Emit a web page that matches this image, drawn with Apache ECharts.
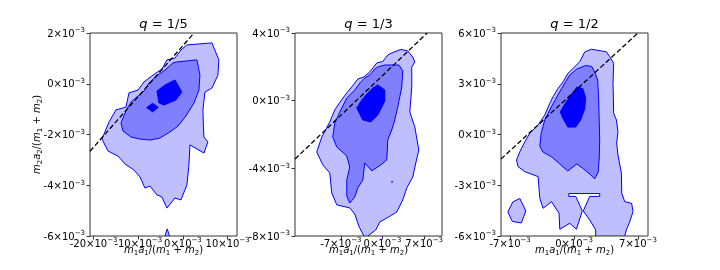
<!DOCTYPE html>
<html><head><meta charset="utf-8">
<script src="https://cdn.jsdelivr.net/npm/echarts@6/dist/echarts.min.js"></script>
<style>html,body{margin:0;padding:0;background:#fff}#c{width:720px;height:270px}</style>
</head><body><div id="c"></div>
<script>
// values in units of 1e-3
const titles = ['1/5', '1/3', '1/2'];
const xTicks1 = [-20, -10, 0, 10];
const xTicks2 = [-7, 0, 7];
const xTicks3 = [-7, 0, 7];

const p1Outer = [[0.89,1.53],[6.49,1.61],[8.05,0.94],[7.83,0.34],[6.49,-0.17],[4.92,-0.33],[4.47,-1.03],[4.59,-1.70],[4.70,-2.10],[5.59,-2.30],[4.70,-2.73],[1.57,-2.41],[1.34,-3.20],[0.89,-3.99],[-0.45,-4.58],[-1.79,-4.50],[-3.58,-4.90],[-4.70,-4.46],[-5.82,-4.38],[-7.38,-4.03],[-8.50,-4.11],[-9.62,-3.67],[-10.96,-3.40],[-12.98,-3.16],[-14.54,-2.85],[-16.78,-2.65],[-18.12,-2.18],[-16.55,-1.51],[-14.99,-1.03],[-12.75,-0.92],[-12.08,-0.36],[-10.07,-0.25],[-8.72,0.07],[-6.94,0.31],[-4.70,0.58],[-3.58,0.94],[-1.79,1.01],[-0.45,1.33]];
const p1Mid = [[3.13,0.94],[3.80,0.34],[3.58,-0.25],[2.46,-0.76],[0.67,-1.27],[-1.12,-1.67],[-2.91,-1.90],[-5.15,-2.14],[-7.38,-2.22],[-9.62,-2.18],[-11.63,-2.10],[-13.42,-1.86],[-13.87,-1.54],[-12.75,-1.07],[-11.63,-0.72],[-10.29,-0.52],[-8.72,-0.29],[-7.61,0.03],[-5.82,0.31],[-4.03,0.54],[-2.24,0.82],[-1.34,0.86]];
const p1Core = [[-1.79,0.15],[-0.22,-0.33],[-1.57,-0.64],[-4.25,-0.84],[-5.37,-0.76],[-5.82,-0.29],[-4.03,-0.05]];
const p1Core2 = [[-6.78,-0.77],[-5.53,-0.93],[-6.78,-1.11],[-8.12,-0.94]];
const p1Tip = [[-4.03,-6.0],[-3.51,-5.72],[-3.02,-6.0]];
const dash1 = [[-20.8,-2.66],[2.5,2.0]];

const p2Outer = [[1.56,2.82],[3.08,3.03],[4.25,2.94],[5.09,2.58],[5.43,2.29],[4.92,1.99],[4.92,0.81],[4.59,-0.67],[5.43,-1.55],[6.10,-2.91],[5.60,-3.68],[5.09,-4.51],[4.08,-5.16],[3.41,-5.87],[2.40,-6.58],[1.06,-6.87],[-0.45,-7.17],[-1.13,-7.64],[-2.47,-8.0],[-3.14,-8.0],[-3.98,-7.41],[-4.66,-6.70],[-5.50,-6.34],[-7.68,-6.16],[-8.52,-5.46],[-8.86,-4.27],[-10.03,-3.80],[-11.04,-3.03],[-10.20,-2.15],[-8.86,-1.26],[-8.02,-0.55],[-7.01,-0.02],[-6.00,0.46],[-5.16,0.81],[-4.15,1.28],[-3.14,1.40],[-2.13,1.70],[-0.96,2.23],[0.05,2.32],[0.89,2.70]];
const p2Mid = [[-0.79,1.99],[0.39,2.11],[2.74,2.11],[3.41,1.76],[3.24,0.81],[2.57,-0.37],[2.07,-1.14],[1.56,-1.73],[0.89,-2.32],[0.72,-3.50],[-0.29,-3.80],[-1.80,-4.15],[-2.97,-3.68],[-3.31,-4.69],[-4.15,-5.16],[-4.66,-5.69],[-5.50,-6.05],[-6.00,-5.63],[-6.00,-4.69],[-5.50,-3.92],[-6.00,-3.27],[-7.68,-2.74],[-8.35,-2.15],[-8.02,-1.32],[-7.01,-0.55],[-6.00,0.16],[-4.66,0.63],[-3.65,1.11],[-2.97,1.34],[-2.13,1.52],[-1.29,1.87]];
const p2Core = [[-0.79,0.93],[0.39,0.63],[0.39,-0.02],[-0.79,-0.85],[-1.97,-1.26],[-3.31,-1.14],[-4.32,-0.43],[-3.48,0.04],[-2.47,0.46],[-1.63,0.75]];
const p2Dot = [[1.61,-4.79]];
const dash2 = [[-14.7,-3.45],[7.5,4.0]];

const p3Outer = [[1.17,4.88],[1.90,5.04],[3.54,4.89],[3.91,4.60],[4.34,4.21],[4.27,3.03],[4.34,1.25],[4.64,0.86],[4.81,0.17],[4.67,-0.50],[4.81,-1.21],[5.19,-2.29],[5.22,-3.46],[5.55,-3.97],[6.31,-4.07],[6.46,-4.56],[6.09,-5.17],[5.73,-5.64],[5.55,-6.0],[2.37,-6.0],[2.37,-5.64],[1.72,-5.05],[1.01,-4.52],[1.72,-3.66],[2.81,-3.66],[2.81,-3.49],[-0.58,-3.49],[-0.58,-3.66],[0.19,-3.66],[0.90,-4.52],[0.26,-5.60],[-0.47,-5.25],[-1.56,-5.60],[-1.64,-4.66],[-2.47,-3.97],[-3.39,-4.36],[-3.75,-3.77],[-3.94,-2.49],[-5.39,-2.20],[-6.13,-1.90],[-6.30,-1.51],[-5.94,-1.02],[-5.39,-0.43],[-4.85,0.07],[-3.94,0.56],[-3.21,1.15],[-2.66,1.84],[-2.30,2.23],[-1.75,2.73],[-1.20,3.12],[-0.66,3.62],[-0.11,3.91],[0.62,4.30]];
const p3Lobe = [[-7.25,-4.58],[-6.71,-3.99],[-5.94,-3.78],[-5.28,-4.52],[-5.78,-5.23],[-6.76,-5.14]];
const p3Mid = [[0.30,3.87],[1.28,4.08],[1.94,4.02],[2.26,3.69],[2.59,3.22],[2.70,2.04],[2.81,-0.33],[2.76,-1.39],[2.65,-2.22],[2.26,-2.63],[1.83,-2.39],[1.06,-2.04],[0.30,-1.74],[-0.69,-2.16],[-1.56,-1.74],[-2.44,-1.33],[-3.42,-1.03],[-3.75,-0.68],[-3.59,0.09],[-3.21,0.86],[-2.49,1.63],[-1.78,2.33],[-1.02,3.04],[-0.47,3.52]];
const p3Core = [[0.30,2.81],[0.95,2.72],[1.28,2.16],[1.17,1.51],[0.73,0.86],[0.19,0.44],[-0.69,0.44],[-1.24,0.98],[-1.51,1.33],[-1.02,1.80],[-0.36,2.33],[0.08,2.63]];
const dash3 = [[-8.0,-1.45],[7.0,6.0]];

const FONT = 'DejaVu Sans';
const LIGHT = '#bfbfff', MID = '#8080ff', DARK = '#0000ff', EDGE = '#0000ff';

const tickRich = {
  a: {fontSize: 10, fontFamily: FONT, color: '#000', lineHeight: 12, verticalAlign: 'bottom'},
  b: {fontSize: 7, fontFamily: FONT, color: '#000', lineHeight: 6, verticalAlign: 'top'}
};
function tickFmt(v) {
  const n = Math.round(v);
  return '{a|' + (n < 0 ? '-' : '') + Math.abs(n) + '×10}{b|−3}';
}
const nameRich = {
  i: {fontSize: 10, fontFamily: FONT, fontStyle: 'italic', color: '#000', lineHeight: 14},
  n: {fontSize: 10, fontFamily: FONT, color: '#000', lineHeight: 14},
  s: {fontSize: 7, fontFamily: FONT, color: '#000', lineHeight: 8, verticalAlign: 'bottom'}
};
const xName = '{i|m}{s|1}{i|a}{s|1}{n|/(}{i|m}{s|1}{n| + }{i|m}{s|2}{n|)}';
const yName = '{i|m}{s|2}{i|a}{s|2}{n|/(}{i|m}{s|1}{n| + }{i|m}{s|2}{n|)}';

const grids = [
  {left: 90, top: 33, width: 147, height: 203},
  {left: 295, top: 33, width: 147, height: 203},
  {left: 501, top: 33, width: 147, height: 203}
].map(g => Object.assign(g, {show: true, borderColor: '#333', borderWidth: 1, containLabel: false}));

const xRanges = [[-20.8, 12.1], [-14.7, 10.0], [-8.0, 8.1]];
// each label set is drawn on its own axis so overlapping labels are all kept (as in the original)
const xTickSets = [xTicks1, xTicks2, xTicks3];
const yRanges = [[-6, 2, 2], [-8, 4, 4], [-6, 6, 3]];

function makeX(gi, vals, withName) {
  const r = xRanges[gi];
  return {
    type: 'value', gridIndex: gi, min: r[0], max: r[1], position: 'bottom',
    axisLine: {show: false, onZero: false}, splitLine: {show: false},
    axisTick: {show: true, length: 3.5, lineStyle: {color: '#333'}, customValues: vals},
    axisLabel: {customValues: vals, formatter: tickFmt, rich: tickRich, margin: 1,
      showMinLabel: true, showMaxLabel: true, hideOverlap: false},
    name: withName ? xName : '', nameLocation: 'middle', nameGap: 7, nameMoveOverlap: false,
    nameTextStyle: {rich: nameRich, verticalAlign: 'top'}
  };
}
const xAxes = [0, 1, 2].map(gi => makeX(gi, xTickSets[gi].filter((v, k) => k % 2 === 0), true))
  .concat([0, 1, 2].map(gi => makeX(gi, xTickSets[gi].filter((v, k) => k % 2 === 1), false)));

const yAxes = yRanges.map((r, i) => ({
  type: 'value', gridIndex: i, min: r[0], max: r[1], interval: r[2],
  axisLine: {show: false, onZero: false}, splitLine: {show: false},
  axisTick: {show: true, length: 3.5, lineStyle: {color: '#333'}},
  axisLabel: {formatter: tickFmt, rich: tickRich, margin: 5, showMinLabel: true, showMaxLabel: true, hideOverlap: false},
  name: i === 0 ? yName : '', nameLocation: 'middle', nameGap: 46, nameRotate: 90, nameMoveOverlap: false,
  nameTextStyle: {rich: nameRich}
}));

function poly(gi, pts, fill) {
  return {
    type: 'custom', xAxisIndex: gi, yAxisIndex: gi, data: pts, clip: true, silent: true,
    renderItem: function (params, api) {
      if (params.dataIndex !== 0) return null;
      return {type: 'polygon', shape: {points: pts.map(p => api.coord(p))},
        style: {fill: fill, stroke: EDGE, lineWidth: 1}};
    }
  };
}
function dashLine(gi, pts) {
  return {type: 'line', xAxisIndex: gi, yAxisIndex: gi, data: pts, showSymbol: false, silent: true,
    clip: true, z: 10, lineStyle: {color: '#000', width: 1.3, type: [5, 2.5]}};
}

const series = [
  poly(0, p1Outer, LIGHT), poly(0, p1Tip, LIGHT), poly(0, p1Mid, MID), poly(0, p1Core, DARK), poly(0, p1Core2, DARK), dashLine(0, dash1),
  poly(1, p2Outer, LIGHT), poly(1, p2Mid, MID), poly(1, p2Core, DARK),
  {type: 'scatter', xAxisIndex: 1, yAxisIndex: 1, data: p2Dot, symbolSize: 2, itemStyle: {color: DARK}, silent: true},
  dashLine(1, dash2),
  poly(2, p3Outer, LIGHT), poly(2, p3Lobe, LIGHT), poly(2, p3Mid, MID), poly(2, p3Core, DARK), dashLine(2, dash3)
];

const titleCenters = [163.5, 368.5, 574.5];
const chart = echarts.init(document.getElementById('c'), null, {renderer: 'canvas'});
chart.setOption({
  animation: false,
  backgroundColor: '#fff',
  title: titles.map((t, i) => ({
    text: '{i|q}{n| = ' + t + '}', left: titleCenters[i], top: 25, textAlign: 'center', textVerticalAlign: 'middle', padding: 0,
    textStyle: {fontWeight: 'normal', rich: {
      i: {fontSize: 13, fontFamily: FONT, fontStyle: 'italic', fontWeight: 'normal', color: '#000'},
      n: {fontSize: 13, fontFamily: FONT, fontWeight: 'normal', color: '#000'}
    }}
  })),
  grid: grids, xAxis: xAxes, yAxis: yAxes, series: series
});
</script></body></html>
